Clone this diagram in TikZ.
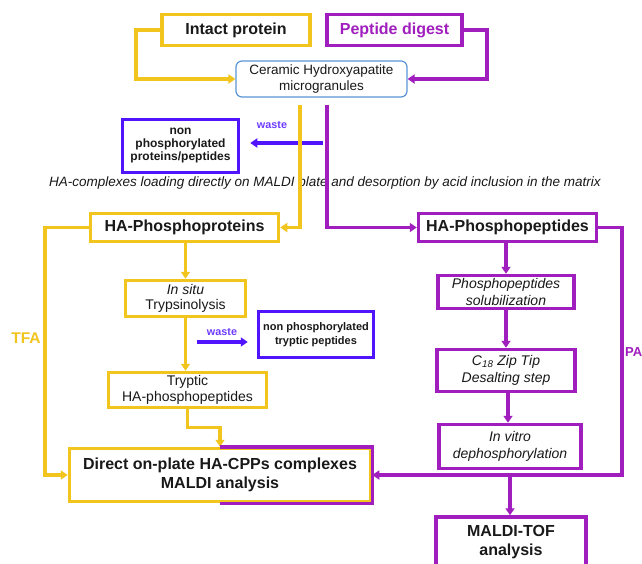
\documentclass[tikz,border=0pt]{standalone}
\usepackage{fontspec}
\setmainfont{Liberation Sans}
\usetikzlibrary{positioning,arrows.meta,calc}
\definecolor{ylw}{RGB}{242,196,30}
\definecolor{prp}{RGB}{160,30,190}
\definecolor{wst}{RGB}{80,20,255}
\definecolor{wlbl}{RGB}{110,60,255}
\definecolor{cer}{RGB}{90,150,215}
\definecolor{txt}{RGB}{25,25,25}

\begin{document}
\begin{tikzpicture}[x=1pt,y=-1pt]
\tikzset{box/.style={draw,line width=3.5pt,inner sep=0pt,align=center,text=txt,font=\fontsize{14}{15.5}\selectfont},
  ybox/.style={box,draw=ylw},
  pbox/.style={box,draw=prp},
  wbox/.style={box,draw=wst,font=\bfseries\fontsize{12}{13}\selectfont},
  bigtxt/.style={font=\bfseries\fontsize{16}{18.5}\selectfont},
  itxt/.style={font=\itshape\fontsize{14}{17}\selectfont},
  yl/.style={draw=ylw,line width=3.5pt},
  pl/.style={draw=prp,line width=3.5pt},
  wl/.style={draw=wst,line width=3.5pt},
  tip/.style={-{Triangle[length=7pt,width=9pt]}},
  wastelbl/.style={text=wlbl,font=\bfseries\fontsize{10.8}{12}\selectfont}}
\path[use as bounding box,fill=white] (0,0) rectangle (642,564);

\node[ybox,bigtxt,minimum width=148,minimum height=31] (intact) at (236,30) {Intact protein};
\node[pbox,bigtxt,text=prp,minimum width=135,minimum height=31] (digest) at (394.5,30) {Peptide digest};
\node[draw=cer,line width=1.2pt,rounded corners=6pt,minimum width=171,minimum height=36,align=center,text=txt,font=\fontsize{13.5}{16}\selectfont] (cha) at (321.5,79) {Ceramic Hydroxyapatite\\microgranules};
\node[wbox,minimum width=116,minimum height=53] (nonphos) at (180.5,146) {non\\phosphorylated\\proteins/peptides};
\node[text=txt,font=\itshape\fontsize{13.5}{16}\selectfont] (loading) at (325,183) {HA-complexes loading directly on MALDI plate and desorption by acid inclusion in the matrix};

\node[ybox,bigtxt,minimum width=188,minimum height=28] (hapro) at (184.5,227.5) {HA-Phosphoproteins};
\node[pbox,bigtxt,minimum width=178,minimum height=28] (hapep) at (507.5,227.5) {HA-Phosphopeptides};
\node[ybox,font=\fontsize{14}{15.5}\selectfont,minimum width=120,minimum height=36] (insitu) at (185.5,298.5) {\textit{In situ}\\Trypsinolysis};
\node[wbox,font=\bfseries\fontsize{11}{13.5}\selectfont,minimum width=115,minimum height=46] (nontryp) at (316,334.5) {non phosphorylated\\tryptic peptides};
\node[ybox,minimum width=158,minimum height=35] (tryptic) at (187.5,390) {Tryptic\\HA-phosphopeptides};
\node[box,draw=ylw,bigtxt,minimum width=301,minimum height=53] (direct) at (220,475) {Direct on-plate HA-CPPs complexes\\MALDI analysis};

\node[pbox,itxt,minimum width=136,minimum height=33] (solub) at (506,292) {Phosphopeptides\\solubilization};
\node[pbox,itxt,minimum width=138,minimum height=42] (zip) at (506,370.5) {C\textsubscript{18} Zip Tip\\Desalting step};
\node[pbox,itxt,minimum width=142,minimum height=44] (vitro) at (510,446.5) {In vitro\\dephosphorylation};
\node[pbox,bigtxt,minimum width=150,minimum height=50] (tof) at (511,542) {MALDI-TOF\\analysis};

\node[text=ylw,font=\bfseries\fontsize{15.5}{17}\selectfont] (tfa) at (26,338) {TFA};
\node[text=prp,font=\bfseries\fontsize{13}{15}\selectfont,anchor=west,inner sep=1pt] (pa) at (624,352) {PA};

\coordinate (ydown) at (300,105);
\coordinate (pdown) at (327,105);
\coordinate (w1) at (323,143);
\coordinate (w2) at (197,342);

\draw[yl,tip] (intact.west) -| (136,79) -- (cha.west);
\draw[pl,tip] (digest.east) -| (487,79) -- (cha.east);

\draw[wl,tip,shorten >=10pt] (w1) -- (w1 -| nonphos.east);
\node[wastelbl] (waste1) at (272,125) {waste};
\draw[yl,tip] (ydown) |- (hapro.east);
\draw[pl,tip] (pdown) |- (hapep.west);

\draw[yl,tip] (hapro.west) -| (45,475) -- (direct.west);
\draw[yl,tip] (hapro.south -| insitu.north) -- (insitu.north);
\draw[yl,tip] (insitu.south) -- (insitu.south |- tryptic.north);
\draw[wl,tip,shorten >=9pt] (w2) -- (w2 -| nontryp.west);
\node[wastelbl] (waste2) at (222,332) {waste};
\draw[yl,tip] (tryptic.south) -- ++(0,18) -| (direct.north);
\draw[pl] (direct.north) -- (direct.north east) -- (direct.south east) -- (direct.south);

\draw[pl,tip] (hapep.south -| solub.north) -- (solub.north);
\draw[pl,tip] (solub.south) -- (zip.north);
\draw[pl,tip] (zip.south) -- (zip.south -| 508,0) -- (508,0 |- vitro.north);
\draw[pl,tip] (hapep.east) -| (622,475) -- (direct.east);
\draw[pl,tip] (510,475) -- (tof.north -| 510,0);
\end{tikzpicture}
\end{document}
